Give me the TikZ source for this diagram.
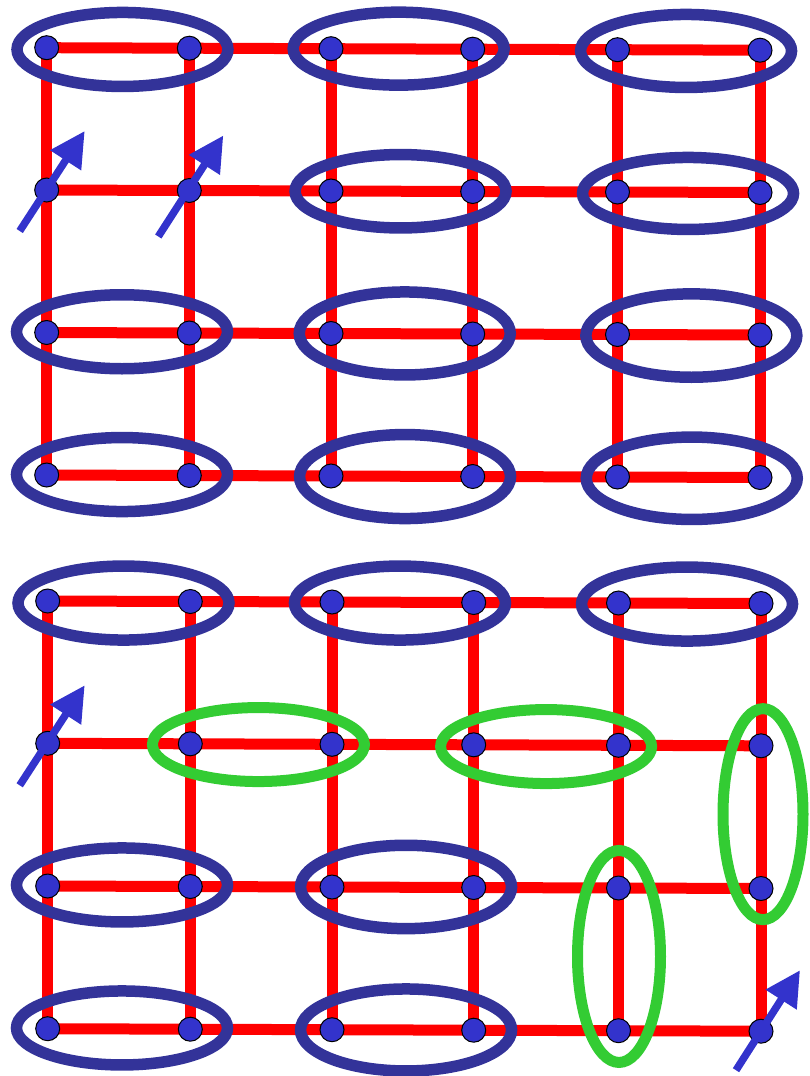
\documentclass[tikz,border=0pt]{standalone}
\usepackage{tikz}
\usetikzlibrary{arrows.meta, calc}

\definecolor{bondred}{HTML}{FF0000}
\definecolor{siteblue}{HTML}{3333CC}
\definecolor{pairblue}{HTML}{333399}
\definecolor{pairgreen}{HTML}{33CC33}

\pgfdeclarelayer{bonds}
\pgfdeclarelayer{pairs}
\pgfsetlayers{bonds,pairs,main}

\begin{document}
\begin{tikzpicture}[
    x=1pt, y=-1pt,
    site/.style={circle, draw=black, line width=1pt, fill=siteblue,
                 minimum size=24pt, inner sep=0pt},
    bondline/.style={draw=bondred, line width=11pt},
    singlet/.style={draw=pairblue, line width=11.5pt},
    broken/.style={draw=pairgreen, line width=11pt},
    spin/.style={draw=siteblue, line width=7.5pt,
                 -{Triangle[length=35pt, width=35pt]}}
]
\useasboundingbox (0,0) rectangle (809,1076);

%% --- Sites: upper (t) and lower (b) lattice ---
\foreach \col/\x in {1/46.7, 2/189.3, 3/331, 4/472.7, 5/617.5, 6/760}
  \foreach \row/\y in {1/47.7, 2/190, 3/332.5, 4/475}
    \node[site] (t-\row-\col) at (\x, {\y+0.5*(\col-1)}) {};

\foreach \col/\x in {1/47.7, 2/190.3, 3/332, 4/473.7, 5/618.5, 6/761}
  \foreach \row/\y in {1/601, 2/743.3, 3/886, 4/1028.7}
    \node[site] (b-\row-\col) at (\x, {\y+0.5*(\col-1)}) {};

%% --- Bonds ---
\begin{pgfonlayer}{bonds}
\foreach \lat in {t,b}
  \foreach \row in {1,...,4}
    \foreach \col/\nxt in {1/2, 2/3, 3/4, 4/5, 5/6}
      \draw[bondline] (\lat-\row-\col.center) -- (\lat-\row-\nxt.center);
\foreach \lat in {t,b}
  \foreach \col in {1,...,6}
    \foreach \row/\nxt in {1/2, 2/3, 3/4}
      \draw[bondline] (\lat-\row-\col.center) -- (\lat-\nxt-\col.center);
\end{pgfonlayer}

%% --- Singlet pairs ---
\begin{pgfonlayer}{pairs}
\foreach \a/\b/\dx/\dy/\ry in {
    t-1-1/t-1-2/4.5/1.5/37,   t-1-3/t-1-4/-3.2/-0.3/36.5, t-1-5/t-1-6/-2.7/1/36.5,
    t-2-3/t-2-4/-1.3/0/36.7,  t-2-5/t-2-6/-0.7/1.2/36,
    t-3-1/t-3-2/4/-1/37,      t-3-3/t-3-4/2.9/-0.3/41.5,  t-3-5/t-3-6/2.6/0.8/41.7,
    t-4-1/t-4-2/4/-0.7/37,    t-4-3/t-4-4/3.2/0.3/42,     t-4-5/t-4-6/3/1/41.2,
    b-1-1/b-1-2/4.5/1.8/37,   b-1-3/b-1-4/-2.9/0.8/37,    b-1-5/b-1-6/-2.7/0.8/37,
    b-3-1/b-3-2/3/-1.3/37,    b-3-3/b-3-4/3.2/-0.3/41.7,
    b-4-1/b-4-2/3/-1/37,      b-4-3/b-4-4/3.2/0/41}
  \draw[singlet] ($(\a)!.5!(\b)+(\dx,\dy)$) ellipse [x radius=105.5pt, y radius=\ry pt];

%% --- Broken pairs ---
\draw[broken] ($(b-2-2)!.5!(b-2-3)+(-2.7,0.5)$) ellipse [x radius=106pt, y radius=37pt];
\draw[broken] ($(b-2-4)!.5!(b-2-5)+(0,1.5)$)    ellipse [x radius=105.5pt, y radius=37pt];
\draw[broken] ($(b-2-6)!.5!(b-3-6)+(2,-3)$)     ellipse [x radius=40pt, y radius=105.5pt];
\draw[broken] ($(b-3-5)!.5!(b-4-5)+(0.5,-2.9)$) ellipse [x radius=41.5pt, y radius=106pt];
\end{pgfonlayer}

%% --- Free spins ---
\draw[spin] ([shift={(-27,41)}]t-2-1.center) -- ([shift={(38,-59)}]t-2-1.center);
\draw[spin] ([shift={(-31,46)}]t-2-2.center) -- ([shift={(34,-55)}]t-2-2.center);
\draw[spin] ([shift={(-28,42)}]b-2-1.center) -- ([shift={(37,-58)}]b-2-1.center);
\draw[spin] ([shift={(-25,39)}]b-4-6.center) -- ([shift={(39,-61)}]b-4-6.center);

\end{tikzpicture}
\end{document}
